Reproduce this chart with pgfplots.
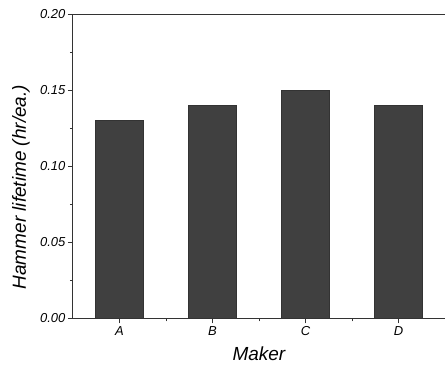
\documentclass[border=0pt]{standalone}
\usepackage{pgfplots}
\pgfplotsset{compat=1.18}
\usepackage{fontspec}
\setmainfont{Liberation Sans}
\begin{document}
\begin{tikzpicture}
\begin{axis}[name=ax,
  scale only axis, width=373pt, height=305pt,
  xmin=-0.5, xmax=3.5, ymin=0, ymax=0.2,
  axis x line=bottom, axis y line=left,
  axis line style={-, line width=0.8pt, black!80},
  xtick={0,1,2,3}, xticklabels={A,B,C,D},
  minor xtick={0.5,1.5,2.5},
  ytick={0,0.05,0.1,0.15,0.2}, minor ytick={0.025,0.075,0.125,0.175},
  tick align=outside, major tick length=5pt, minor tick length=3pt,
  tick style={black!80, line width=0.6pt},
  /pgf/number format/assume math mode=true,
  yticklabel style={/pgf/number format/fixed, /pgf/number format/fixed zerofill, /pgf/number format/precision=2, font=\itshape\fontsize{13}{15}\selectfont, xshift=1pt},
  xticklabel style={font=\itshape\fontsize{13}{15}\selectfont},
  scaled y ticks=false,
  every axis y label/.style={at={(rel axis cs:0,0.5)}, xshift=-52pt, yshift=-21pt, rotate=90, anchor=center, font=\itshape\fontsize{19}{21}\selectfont},
  every axis x label/.style={at={(rel axis cs:0.5,0)}, yshift=-36pt, anchor=center, font=\itshape\fontsize{19}{21}\selectfont},
  ylabel={Hammer lifetime (hr/ea.)},
  xlabel={Maker},
  clip=false,
]
\addplot[ybar, bar width=0.52, fill=black!75, draw=black!80] coordinates {(0,0.13) (1,0.14) (2,0.15) (3,0.14)};
\draw[black!80, line width=0.8pt] (rel axis cs:0,1) -- (rel axis cs:1,1);
\end{axis}
\pgfresetboundingbox
\path ([xshift=-73pt,yshift=-53pt]ax.south west) rectangle ([yshift=14pt]ax.north east);
\end{tikzpicture}
\end{document}
